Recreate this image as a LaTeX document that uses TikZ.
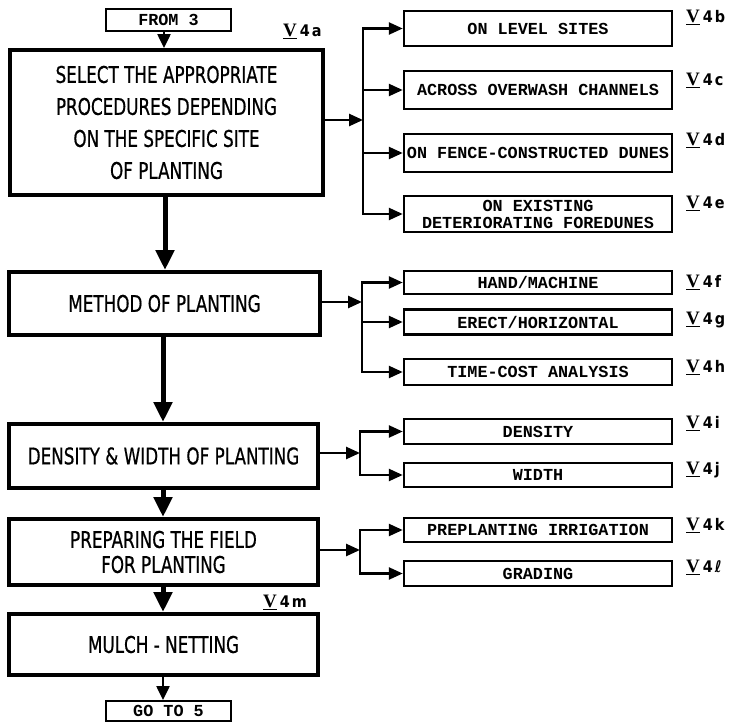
\documentclass[tikz,border=0pt]{standalone}
\usepackage{fontspec}
\usetikzlibrary{arrows.meta}
\newfontfamily\mainf[FakeStretch=0.73,FakeBold=0.6]{DejaVu Sans}
\newfontfamily\monof{Liberation Mono}
\newfontfamily\vserif{Liberation Serif}
\newfontfamily\refsans[FakeStretch=0.9]{DejaVu Sans}
\newcommand{\rl}[1]{{\vserif\bfseries\fontsize{19}{19}\selectfont\underline{V}}\kern3pt{\refsans\bfseries #1}}
\tikzset{
  mainbox/.style={draw, line width=4pt, inner sep=0pt, align=center,
    font=\mainf\fontsize{23}{32}\selectfont},
  subbox/.style={draw, line width=2.5pt, inner sep=0pt, align=center, minimum width=268pt,
    font=\monof\bfseries\fontsize{16.8}{17}\selectfont},
  termbox/.style={draw, line width=2pt, inner sep=0pt, minimum width=125pt, minimum height=22pt,
    font=\monof\bfseries\fontsize{16.8}{17}\selectfont},
  thickarrow/.style={line width=5pt, -{Triangle[width=18pt,length=20pt]}},
  thinarrow/.style={line width=2.5pt, -{Triangle[width=13pt,length=14pt]}},
  brarrow/.style={line width=2.5pt, -{Triangle[width=12pt,length=14pt]}},
  busline/.style={line width=2.5pt, line cap=rect},
  reflab/.style={anchor=west, inner sep=0pt, font=\fontsize{16}{16}\selectfont}
}
\begin{document}
\begin{tikzpicture}[x=1pt,y=-1pt]
\useasboundingbox (0,0) rectangle (740,723);
% left column
\node[termbox] (from) at (168.5,20) {FROM 3};
\node[mainbox, minimum width=313pt, minimum height=145pt] (A) at (166.5,122.5)
  {SELECT THE APPROPRIATE\\PROCEDURES DEPENDING\\ON THE SPECIFIC SITE\\OF PLANTING};
\node[mainbox, minimum width=311pt, minimum height=63pt] (B) at (164.5,303.5) {METHOD OF PLANTING};
\node[mainbox, minimum width=309pt, minimum height=64pt] (C) at (163.5,456) {DENSITY \& WIDTH OF PLANTING};
\node[mainbox, minimum width=309pt, minimum height=66pt, font=\mainf\fontsize{23}{25}\selectfont] (D) at (163.5,552)
  {PREPARING THE FIELD\\FOR PLANTING};
\node[mainbox, minimum width=309pt, minimum height=61pt] (E) at (163.5,644.5) {MULCH - NETTING};
\node[termbox, minimum height=20pt] (goto) at (168.5,711) {GO TO 5};
\node[reflab] (la) at (283,31) {\rl{4\kern2pt a}};
\node[reflab] (lm) at (263,602) {\rl{4\kern2pt m}};
% vertical connectors
\draw[thinarrow] (from.south -| 164,0) -- (A.north -| 164,0);
\draw[thickarrow] (A.south -| 165,0) -- (B.north -| 165,0);
\draw[thickarrow] (B.south -| 163,0) -- (C.north -| 163,0);
\draw[thickarrow] (C.south -| 163,0) -- (D.north -| 163,0);
\draw[thickarrow] (D.south -| 163,0) -- (E.north -| 163,0);
\draw[thinarrow] (E.south -| 163,0) -- (goto.north -| 163,0);
% right group 1
\node[subbox, minimum height=35pt] (lvl) at (538,28.5) {ON LEVEL SITES};
\node[subbox, minimum height=38pt] (ovw) at (538,90) {ACROSS OVERWASH CHANNELS};
\node[subbox, minimum height=38pt] (fen) at (538,153) {ON FENCE-CONSTRUCTED DUNES};
\node[subbox, minimum height=36pt] (ext) at (538,214) {ON EXISTING\\DETERIORATING FOREDUNES};
\coordinate (b1) at (363,120);
\draw[busline] (b1 |- lvl.west) -- (b1 |- ext.west);
\draw[brarrow] (A.east |- b1) -- (b1);
\foreach \n in {lvl,ovw,fen,ext} \draw[brarrow] (b1 |- \n.west) -- (\n.west);
\node[reflab] at (686,17) {\rl{4\kern2pt b}};
\node[reflab] at (686,80) {\rl{4\kern2pt c}};
\node[reflab] at (686,140) {\rl{4\kern2pt d}};
\node[reflab] at (686,203) {\rl{4\kern2pt e}};
% right group 2
\node[subbox, minimum height=23pt] (hand) at (538,282.5) {HAND/MACHINE};
\node[subbox, minimum height=25pt] (erect) at (538,322) {ERECT/HORIZONTAL};
\node[subbox, minimum height=26pt] (time) at (538,372) {TIME-COST ANALYSIS};
\coordinate (b2) at (362,302);
\draw[busline] (b2 |- hand.west) -- (b2 |- time.west);
\draw[brarrow] (B.east |- b2) -- (b2);
\foreach \n in {hand,erect,time} \draw[brarrow] (b2 |- \n.west) -- (\n.west);
\node[reflab] at (686,282) {\rl{4\kern2pt f}};
\node[reflab] at (686,320) {\rl{4\kern2pt g}};
\node[reflab] at (686,367) {\rl{4\kern2pt h}};
% right group 3
\node[subbox, minimum height=25pt] (dens) at (538,431.5) {DENSITY};
\node[subbox, minimum height=24pt] (wid) at (538,475) {WIDTH};
\coordinate (b3) at (360,453);
\draw[busline] (b3 |- dens.west) -- (b3 |- wid.west);
\draw[brarrow] (C.east |- b3) -- (b3);
\foreach \n in {dens,wid} \draw[brarrow] (b3 |- \n.west) -- (\n.west);
\node[reflab] at (686,423) {\rl{4\kern2pt i}};
\node[reflab] at (686,470) {\rl{4\kern2pt j}};
% right group 4
\node[subbox, minimum height=24pt] (irr) at (538,530) {PREPLANTING IRRIGATION};
\node[subbox, minimum height=25pt] (grad) at (538,573.5) {GRADING};
\coordinate (b4) at (360,550);
\draw[busline] (b4 |- irr.west) -- (b4 |- grad.west);
\draw[brarrow] (D.east |- b4) -- (b4);
\foreach \n in {irr,grad} \draw[brarrow] (b4 |- \n.west) -- (\n.west);
\node[reflab] at (686,525) {\rl{4\kern2pt k}};
\node[reflab] at (686,567) {\rl{4\kern2pt ℓ}};
\end{tikzpicture}
\end{document}
